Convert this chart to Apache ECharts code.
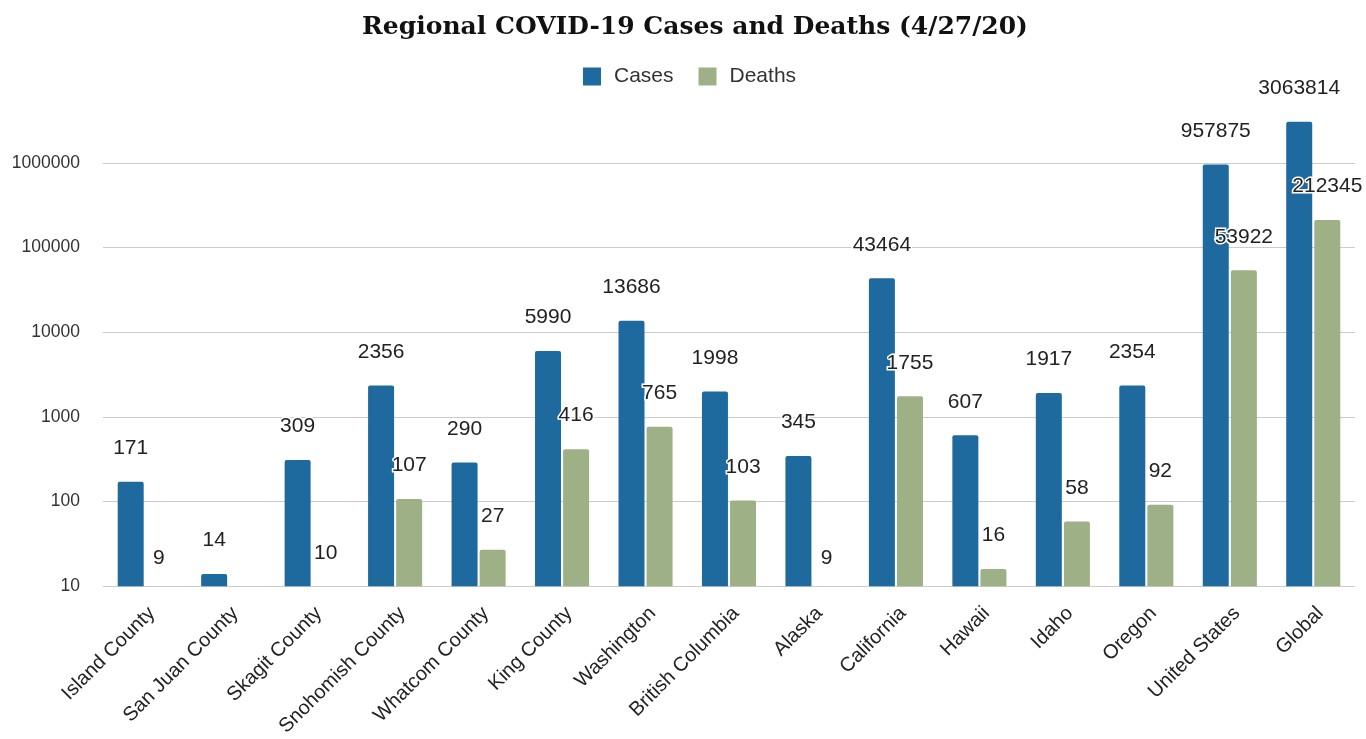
<!DOCTYPE html>
<html>
<head>
<meta charset="utf-8">
<script src="https://cdn.jsdelivr.net/npm/echarts@6/dist/echarts.min.js"></script>
<style>
html,body{margin:0;padding:0;background:#fff;}
#chart{width:1366px;height:739px;}
</style>
</head>
<body>
<div id="chart"></div>
<script>
const categories = ['Island County','San Juan County','Skagit County','Snohomish County','Whatcom County','King County','Washington','British Columbia','Alaska','California','Hawaii','Idaho','Oregon','United States','Global'];
const cases = [171, 14, 309, 2356, 290, 5990, 13686, 1998, 345, 43464, 607, 1917, 2354, 957875, 3063814];
const deaths = [9, null, 10, 107, 27, 416, 765, 103, 9, 1755, 16, 58, 92, 53922, 212345];
const yMin = 10;
const yMax = 4000000;

const FONT = '"Liberation Sans", Arial, sans-serif';
const chart = echarts.init(document.getElementById('chart'));

// values below the axis minimum still get their label (as in the reference)
const lowDeaths = deaths.map((v, i) => (v !== null && v < yMin) ? [categories[i], v] : null).filter(Boolean);

const labelStyle = {
  show: true,
  position: 'top',
  distance: 23,
  fontFamily: FONT,
  fontSize: 21,
  color: '#222',
  opacity: 1,
  textBorderColor: '#fff',
  textBorderWidth: 3
};

chart.setOption({
  animation: false,
  backgroundColor: '#fff',
  title: {
    text: 'Regional COVID-19 Cases and Deaths (4/27/20)',
    left: 690,
    textAlign: 'center',
    top: 10,
    textStyle: { fontFamily: '"DejaVu Serif", serif', fontWeight: 'bold', fontSize: 25, color: '#111' }
  },
  legend: {
    data: ['Cases', 'Deaths'],
    top: 61,
    left: 578,
    icon: 'rect',
    itemWidth: 18,
    itemHeight: 18,
    itemGap: 25,
    textStyle: { fontFamily: FONT, fontSize: 21, color: '#333', padding: [0, 0, 0, 8] }
  },
  grid: { left: 103, right: 11, top: 112, bottom: 152, containLabel: false },
  xAxis: {
    type: 'category',
    data: categories,
    axisLine: { show: false },
    axisTick: { show: false },
    axisLabel: { interval: 0, rotate: 45, verticalAlign: 'top', fontFamily: FONT, fontSize: 20, color: '#222', margin: 17 }
  },
  yAxis: {
    type: 'log',
    logBase: 10,
    min: yMin,
    max: yMax,
    axisLine: { show: false },
    axisTick: { show: false },
    axisLabel: { fontFamily: FONT, fontSize: 17.5, color: '#333', margin: 23, showMaxLabel: false,
      formatter: v => String(Math.round(v)) },
    splitLine: { show: true, showMaxLine: false, lineStyle: { color: ['#cccccc','#cccccc','#cccccc','#cccccc','#cccccc','#cccccc','rgba(0,0,0,0)'], width: 1 } }
  },
  series: [
    {
      name: 'Cases',
      type: 'bar',
      data: cases,
      barWidth: 26,
      barGap: '8%',
      itemStyle: { color: '#1e6a9f', borderRadius: [2, 2, 0, 0] },
      label: labelStyle
    },
    {
      name: 'Deaths',
      type: 'bar',
      data: deaths,
      barWidth: 26,
      barGap: '8%',
      itemStyle: { color: '#9db086', borderRadius: [2, 2, 0, 0] },
      label: labelStyle
    },
    {
      name: 'DeathsLow',
      type: 'scatter',
      data: lowDeaths,
      clip: false,
      symbolSize: 0,
      silent: true,
      itemStyle: { opacity: 1 },
      label: Object.assign({}, labelStyle, { offset: [14, 0], distance: 21 })
    }
  ]
});
</script>
</body>
</html>
